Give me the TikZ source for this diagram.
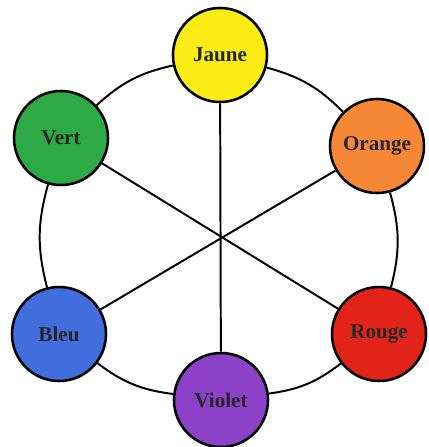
\documentclass[tikz,border=0pt]{standalone}
\usepackage{fontspec}
\setmainfont{Liberation Serif}
\begin{document}
\begin{tikzpicture}[x=0.025cm, y=-0.025cm,
    disque/.style={circle, draw, line width=1.8pt, minimum size=2.35cm, text=black!85,
        font=\fontsize{15}{17}\selectfont\bfseries},
    lien/.style={line width=1.4pt}]
    \useasboundingbox (0,0) rectangle (428,447);
    \definecolor{cjaune}{RGB}{250,236,20}
    \definecolor{cvert}{RGB}{45,170,70}
    \definecolor{corange}{RGB}{245,135,55}
    \definecolor{cbleu}{RGB}{65,110,220}
    \definecolor{crouge}{RGB}{225,35,25}
    \definecolor{cviolet}{RGB}{140,65,200}
    % les six couleurs
    \node[disque, fill=cjaune] (jaune) at (220,55) {Jaune};
    \node[disque, fill=corange] (orange) at (377,146) {Orange};
    \node[disque, fill=crouge] (rouge) at (379,334) {Rouge};
    \node[disque, fill=cviolet] (violet) at (221,400) {Violet};
    \node[disque, fill=cbleu] (bleu) at (59,334) {Bleu};
    \node[disque, fill=cvert] (vert) at (61,138) {Vert};
    % le cercle
    \draw[lien] (jaune) to[bend left=15] (orange);
    \draw[lien] (orange) to[bend left=15] (rouge);
    \draw[lien] (rouge) to[bend left=15] (violet);
    \draw[lien] (violet) to[bend left=15] (bleu);
    \draw[lien] (bleu) to[bend left=15] (vert);
    \draw[lien] (vert) to[bend left=15] (jaune);
    % les diametres
    \draw[lien] (jaune) -- (violet);
    \draw[lien] (vert) -- (rouge);
    \draw[lien] (orange) -- (bleu);
\end{tikzpicture}
\end{document}
